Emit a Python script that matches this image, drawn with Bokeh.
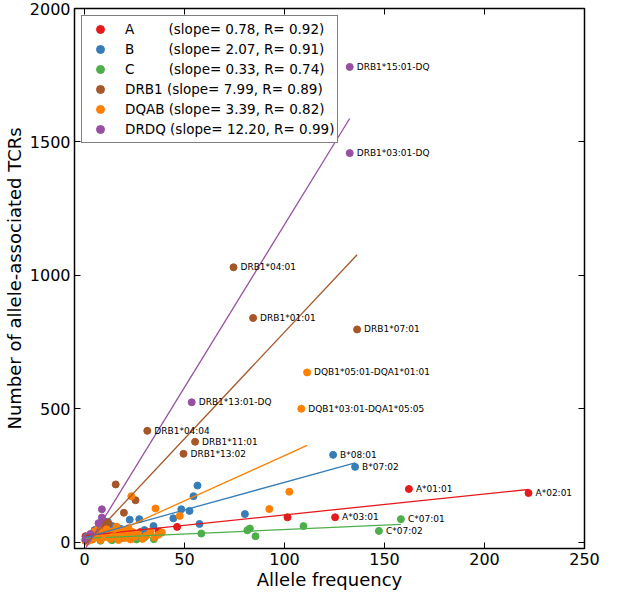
from bokeh.plotting import figure
from bokeh.models import ColumnDataSource, Legend, LegendItem, LinearAxis, FixedTicker, Range1d
from bokeh.embed import file_html
from bokeh.resources import INLINE
from bokeh.core.properties import value

FONT = "DejaVu Sans"

groups = ["A", "B", "C", "DRB1", "DQAB", "DRDQ"]
colors = ["#e41a1c", "#377eb8", "#4daf4a", "#a65628", "#ff7f00", "#984ea3"]
slopes = [0.78, 2.07, 0.33, 7.99, 3.39, 12.20]
r_values = [0.92, 0.91, 0.74, 0.89, 0.82, 0.99]
intercepts = [24, 17, 14, -12, -15, -30]

# points (labelled points are the last ones of each group)
A_x = [0.5, 8, 14, 20, 28, 37, 46.3, 101.5, 125.3, 162.2, 222.0]
A_y = [22, 32, 40, 35, 38, 40, 57, 93, 93, 199, 184]
A_names = ["A*03:01", "A*01:01", "A*02:01"]

B_x = [1, 5, 10.5, 11.6, 14, 18, 22.6, 27.4, 30, 34.5, 44.4, 48.4, 52.5, 54.5, 56.5, 57.5, 80.2, 124.3, 135.3]
B_y = [20, 45, 71, 76, 60, 50, 84, 86, 45, 60, 89, 123, 117, 172, 212, 68, 105, 327, 282]
B_names = ["B*08:01", "B*07:02"]

C_x = [0.5, 4, 8, 13.7, 18, 21.8, 26, 30, 34.7, 58.4, 81.4, 82.7, 85.5, 109.5, 147.2, 158.2]
C_y = [10, 15, 5, 7, 14, 25, 10, 18, 11, 32, 44, 51, 22, 60, 42, 86]
C_names = ["C*07:02", "C*07:01"]

DRB1_x = [0.5, 3, 6, 9, 10, 12, 15.6, 19.7, 25.5, 31.4, 55.3, 49.5, 74.5, 84.3, 136.3]
DRB1_y = [5, 20, 45, 60, 75, 70, 216, 110, 157, 417, 376, 331, 1030, 840, 797]
DRB1_names = ["DRB1*04:04", "DRB1*11:01", "DRB1*13:02", "DRB1*04:01", "DRB1*01:01", "DRB1*07:01"]

DQAB_x = [0.5, 2, 3, 4, 5, 6, 7, 8, 9, 10, 11, 12, 13, 14, 15, 16, 17, 18, 19, 20, 21, 22,
          23, 24, 25, 27, 29, 31, 33, 35, 37, 38.7, 23.4, 35.5, 47.6, 92.4, 102.4, 108.4, 111.3]
DQAB_y = [5, 15, 30, 10, 40, 22, 55, 8, 35, 18, 48, 28, 12, 40, 22, 58, 8, 32, 45, 15, 28, 52,
          10, 38, 20, 30, 12, 25, 40, 18, 28, 36, 172, 126, 98, 124, 189, 500, 636]
DQAB_names = ["DQB1*03:01-DQA1*05:05", "DQB1*05:01-DQA1*01:01"]

DRDQ_x = [0.5, 3, 7, 8.7, 8.7, 53.6, 132.6, 132.6]
DRDQ_y = [10, 30, 71, 92, 123, 524, 1458, 1781]
DRDQ_names = ["DRB1*13:01-DQ", "DRB1*03:01-DQ", "DRB1*15:01-DQ"]

x_ticks = [0, 50, 100, 150, 200, 250]
y_ticks = [0, 500, 1000, 1500, 2000]

data_x = [A_x, B_x, C_x, DRB1_x, DQAB_x, DRDQ_x]
data_y = [A_y, B_y, C_y, DRB1_y, DQAB_y, DRDQ_y]
data_names = [A_names, B_names, C_names, DRB1_names, DQAB_names, DRDQ_names]

p = figure(width=601, height=592, x_range=Range1d(-5, 250), y_range=Range1d(-24, 2000),
           output_backend="svg", toolbar_location=None,
           min_border_top=8, min_border_right=17, min_border_bottom=0, min_border_left=0)
p.background_fill_color = "white"
p.border_fill_color = "white"
p.xgrid.visible = False
p.ygrid.visible = False
p.outline_line_color = "black"
p.outline_line_width = 1.5

for ax, ticks in ((p.xaxis[0], x_ticks), (p.yaxis[0], y_ticks)):
    ax.ticker = FixedTicker(ticks=ticks)
    ax.axis_line_color = None
    ax.major_tick_in = 6
    ax.major_tick_out = 0
    ax.minor_tick_line_color = None
    ax.major_tick_line_color = "black"
    ax.major_label_text_font = FONT
    ax.major_label_text_font_size = "16px"
    ax.major_label_text_color = "black"
    ax.axis_label_text_font = FONT
    ax.axis_label_text_font_size = "18px"
    ax.axis_label_text_font_style = "normal"
    ax.axis_label_text_color = "black"

p.xaxis[0].axis_label = "Allele frequency"
p.yaxis[0].axis_label = "Number of allele-associated TCRs"
p.xaxis[0].major_label_standoff = 4
p.xaxis[0].axis_label_standoff = 1
p.yaxis[0].major_label_standoff = 4
p.yaxis[0].axis_label_standoff = 2

for loc, ticks in (("above", x_ticks), ("right", y_ticks)):
    ax = LinearAxis(ticker=FixedTicker(ticks=ticks), axis_line_color=None,
                    major_tick_in=6, major_tick_out=0, minor_tick_line_color=None,
                    major_label_overrides={t: "" for t in ticks}, major_label_standoff=0)
    p.add_layout(ax, loc)

scatter_renderers = []
for xs, ys, c in zip(data_x, data_y, colors):
    r = p.scatter(x=xs, y=ys, size=7, marker="circle", fill_color=c, line_color=c)
    scatter_renderers.append(r)

for xs, c, s, b in zip(data_x, colors, slopes, intercepts):
    lx = [min(xs), max(xs)]
    ly = [s * v + b for v in lx]
    p.line(x=lx, y=ly, line_color=c, line_width=1.3)

ann_x, ann_y, ann_t = [], [], []
for xs, ys, names in zip(data_x, data_y, data_names):
    n = len(names)
    ann_x += xs[-n:]
    ann_y += ys[-n:]
    ann_t += names
p.text(x=ann_x, y=ann_y, text=ann_t, x_offset=7, y_offset=0, text_font=value(FONT),
       text_font_size="9px", text_baseline="alphabetic", text_align="left", text_color="black")

items = []
for g, s, rv, r in zip(groups, slopes, r_values, scatter_renderers):
    if len(g) == 1:
        lab = g + "\u00a0" * 8 + f"(slope= {s:.2f}, R= {rv:.2f})"
    else:
        lab = g + f" (slope= {s:.2f}, R= {rv:.2f})"
    items.append(LegendItem(label=lab, renderers=[r]))

legend = Legend(items=items, location="top_left", margin=7, padding=3, spacing=0,
                label_height=20, glyph_height=20, glyph_width=30, label_standoff=10,
                label_text_font=FONT, label_text_font_size="13.5px", label_text_color="black",
                border_line_color="black", border_line_width=1.5,
                background_fill_color="white", background_fill_alpha=1.0)
p.add_layout(legend)

open("out.html", "w").write(file_html(p, INLINE))
